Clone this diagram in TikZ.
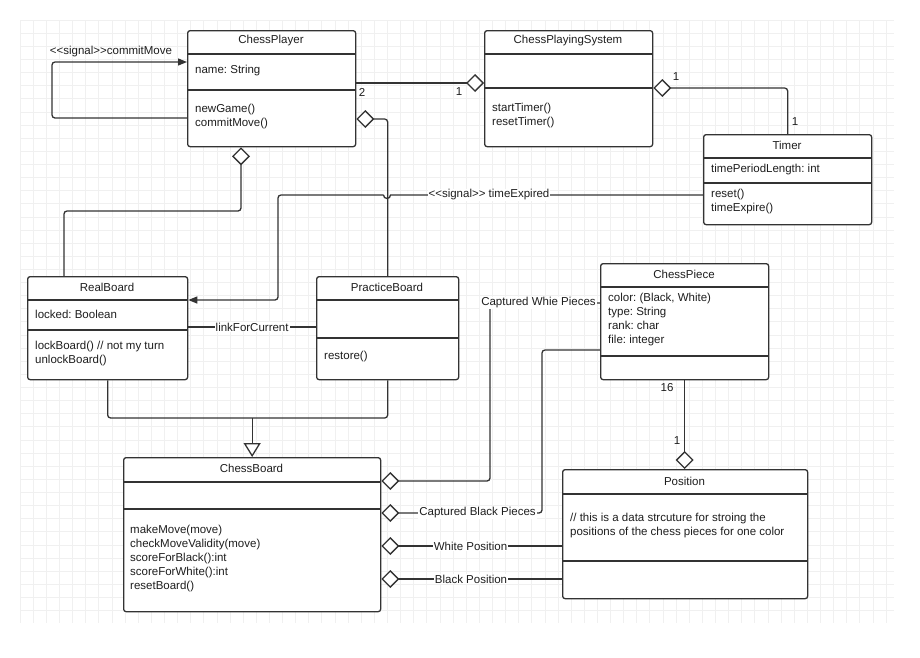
\documentclass[tikz,border=0pt]{standalone}
\usepackage{fontspec}
\setmainfont{Liberation Sans}
\usetikzlibrary{arrows.meta,calc}
\definecolor{ink}{HTML}{333333}
\definecolor{txtc}{HTML}{1E1E1E}
\definecolor{gridc}{HTML}{F0F0F0}
\newcommand{\fnt}{\fontsize{11.5}{14}\selectfont\frenchspacing}
\tikzset{
  ln/.style={draw=ink, line width=1.3pt},
  cls/.style={draw=ink, line width=1.3pt, rounded corners=2.5pt, rectangle, inner sep=0pt, fill=white, anchor=north west},
  ttl/.style={font=\fnt, text=txtc, inner sep=0pt},
  txt/.style={font=\fnt, text=txtc, align=left, anchor=west, inner sep=0pt},
  lbl/.style={font=\fnt, text=txtc, fill=white, inner sep=1pt},
  mult/.style={font=\fnt, text=txtc, inner sep=0pt},
  agg/.style={ln, {Diamond[length=18pt,width=18pt,fill=white]}-},
  aggend/.style={ln, -{Diamond[length=18pt,width=18pt,fill=white]}},
  gen/.style={ln, -{Triangle[length=14pt,width=17pt,fill=white]}},
  sig/.style={ln, -{Triangle[length=9pt,width=7pt]}},
}
\begin{document}
\begin{tikzpicture}[x=1pt,y=-1pt]
\useasboundingbox (0,0) rectangle (920,657);
\fill[white] (0,0) rectangle (920,657);
% grid
\foreach \i in {0,...,66} {\draw[gridc, line width=0.6pt] ({20+13.12*\i},20) -- ({20+13.12*\i},623);}
\foreach \j in {0,...,45} {\draw[gridc, line width=0.6pt] (20,{20+13.12*\j}) -- (894,{20+13.12*\j});}

% ---------- classes ----------
% ChessPlayer
\node[cls, minimum width=168pt, minimum height=116pt] (cp) at (187,30) {};
\draw[ln] (cp.west |- 0,54) -- (cp.east |- 0,54);
\draw[ln] (cp.west |- 0,90) -- (cp.east |- 0,90);
\node[ttl] (cpT) at (271,41) {ChessPlayer};
\node[txt] (cpA) at (195,71) {name: String};
\node[txt] (cpM) at (195,117) {newGame()\\commitMove()};

% ChessPlayingSystem
\node[cls, minimum width=168pt, minimum height=116pt] (cps) at (484,30) {};
\draw[ln] (cps.west |- 0,54) -- (cps.east |- 0,54);
\draw[ln] (cps.west |- 0,88) -- (cps.east |- 0,88);
\node[ttl] (cpsT) at (568,41) {ChessPlayingSystem};
\node[txt] (cpsM) at (492,116) {startTimer()\\resetTimer()};

% Timer
\node[cls, minimum width=168pt, minimum height=90pt] (tm) at (703,134) {};
\draw[ln] (tm.west |- 0,158) -- (tm.east |- 0,158);
\draw[ln] (tm.west |- 0,183) -- (tm.east |- 0,183);
\node[ttl] (tmT) at (787,145) {Timer};
\node[txt] (tmA) at (711,170) {timePeriodLength: int};
\node[txt] (tmM) at (711,202) {reset()\\timeExpire()};

% RealBoard
\node[cls, minimum width=160pt, minimum height=103pt] (rb) at (27,276) {};
\draw[ln] (rb.west |- 0,300) -- (rb.east |- 0,300);
\draw[ln] (rb.west |- 0,330) -- (rb.east |- 0,330);
\node[ttl] (rbT) at (107,287) {RealBoard};
\node[txt] (rbA) at (35,314) {locked: Boolean};
\node[txt] (rbM) at (35,354) {lockBoard() // not my turn\\unlockBoard()};

% PracticeBoard
\node[cls, minimum width=142pt, minimum height=103pt] (pb) at (316,276) {};
\draw[ln] (pb.west |- 0,300) -- (pb.east |- 0,300);
\draw[ln] (pb.west |- 0,338) -- (pb.east |- 0,338);
\node[ttl] (pbT) at (387,287) {PracticeBoard};
\node[txt] (pbM) at (324,357) {restore()};

% ChessPiece
\node[cls, minimum width=168pt, minimum height=116pt] (cpc) at (600,263) {};
\draw[ln] (cpc.west |- 0,287) -- (cpc.east |- 0,287);
\draw[ln] (cpc.west |- 0,356) -- (cpc.east |- 0,356);
\node[ttl] (cpcT) at (684,274) {ChessPiece};
\node[txt] (cpcA) at (608,320) {color: (Black, White)\\type: String\\rank: char\\file: integer};

% ChessBoard
\node[cls, minimum width=257pt, minimum height=154pt] (cb) at (123,457) {};
\draw[ln] (cb.west |- 0,482) -- (cb.east |- 0,482);
\draw[ln] (cb.west |- 0,509) -- (cb.east |- 0,509);
\node[ttl] (cbT) at (251.5,468) {ChessBoard};
\node[txt] (cbM) at (130,559) {makeMove(move)\\checkMoveValidity(move)\\scoreForBlack():int\\scoreForWhite():int\\resetBoard()};

% Position
\node[cls, minimum width=245pt, minimum height=129pt] (pos) at (562,469) {};
\draw[ln] (pos.west |- 0,494) -- (pos.east |- 0,494);
\draw[ln] (pos.west |- 0,561) -- (pos.east |- 0,561);
\node[ttl] (posT) at (684.5,481) {Position};
\node[txt] (posA) at (570,526) {// this is a data strcuture for stroing the\\positions of the chess pieces for one color};

% ---------- connectors ----------
% self signal on ChessPlayer
\draw[sig, rounded corners=3pt] (cp.west |- 0,118) -- (52,118) -- (52,62) -- (cp.west |- 0,62);
\node[mult] (lSelf) at (111,52) {<{}<signal>{}>commitMove};

% ChessPlayer -- ChessPlayingSystem
\draw[aggend] (cp.east |- 0,83) -- (cps.west |- 0,83);
\node[mult] (m2) at (362,92) {2};
\node[mult] (m1a) at (459,92) {1};

% ChessPlayingSystem -- Timer
\draw[agg, rounded corners=3pt] (cps.east |- 0,88) -| (tm.north);
\node[mult] (m1b) at (676,77) {1};
\node[mult] (m1c) at (795,122) {1};

% ChessPlayer -- RealBoard
\draw[agg, rounded corners=3pt] (cp.south -| 241,0) -- (241,211) -- (64,211) -- (rb.north -| 64,0);

% ChessPlayer -- PracticeBoard
\draw[agg, rounded corners=3pt] (cp.east |- 0,119) -| (pb.north);

% timeExpired signal with hop
\coordinate (hopR) at (390.5,195);
\coordinate (hopL) at (383.5,195);
\draw[ln] (tm.west |- 0,195) -- (hopR) arc[start angle=0, end angle=-180, radius=3.5pt];
\draw[sig, rounded corners=3pt] (hopL) -- (278,195) -- (278,300) -- (rb.east |- 0,300);
\node[lbl] (lSig) at (489,195) {<{}<signal>{}> timeExpired};

% linkForCurrent
\draw[ln] (rb.east |- 0,327) -- (pb.west |- 0,327) node[lbl, midway] (lLink) {linkForCurrent};

% generalization
\coordinate (gj) at (cb.north |- 0,418);
\draw[ln, rounded corners=3pt] (rb.south) |- (gj) -| (pb.south);
\draw[gen] (gj) -- (cb.north);

% ChessBoard -- ChessPiece (captured white)
\draw[agg, rounded corners=3pt] (cb.east |- 0,481) -- (490,481) -- (490,303) -- (cpc.west |- 0,303);
\node[lbl] (lCW) at (538.5,303) {Captured Whie Pieces};

% ChessBoard -- ChessPiece (captured black)
\draw[agg, rounded corners=3pt] (cb.east |- 0,513) -- (542,513) -- (542,350) -- (cpc.west |- 0,350);
\node[lbl] (lCB) at (477.5,513) {Captured Black Pieces};

% ChessBoard -- Position
\draw[agg] (cb.east |- 0,546) -- (pos.west |- 0,546);
\node[lbl] (lWP) at (470.5,546) {White Position};
\draw[agg] (cb.east |- 0,579) -- (pos.west |- 0,579);
\node[lbl] (lBP) at (471,579) {Black Position};

% ChessPiece -- Position
\draw[agg] (pos.north -| cpc.south) -- (cpc.south);
\node[mult] (m16) at (667,388) {16};
\node[mult] (m1d) at (677,441) {1};
\end{tikzpicture}
\end{document}
